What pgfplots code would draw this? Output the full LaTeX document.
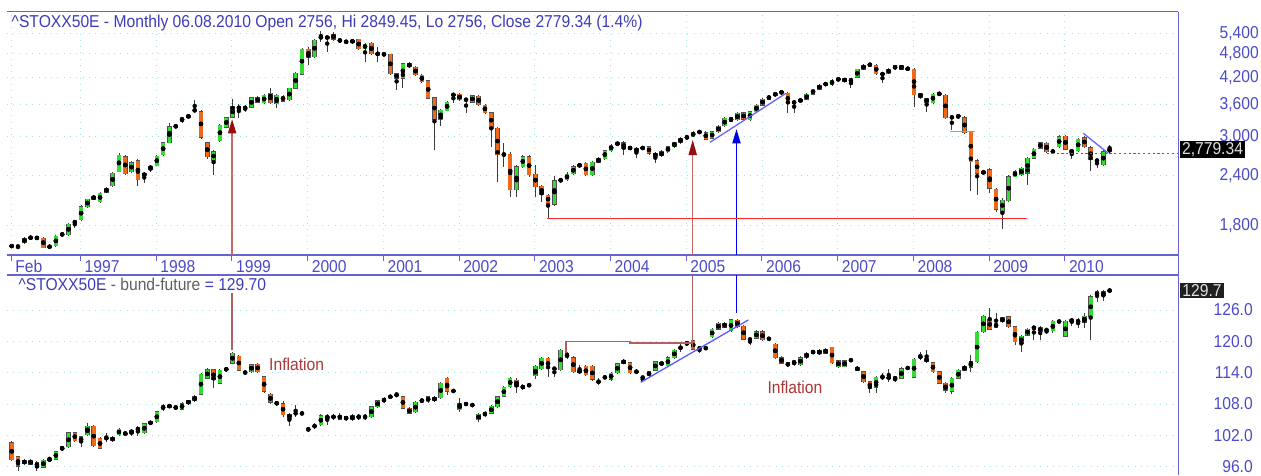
\documentclass[border=0pt]{standalone}
\usepackage{fontspec}
\setmainfont{Liberation Sans}[FakeStretch=0.91]
\usepackage{pgfplots}
\pgfplotsset{compat=1.18}
\usepackage{pgfplotstable}
\definecolor{upg}{RGB}{50,220,50}
\definecolor{dnr}{RGB}{240,105,25}
\definecolor{edge}{RGB}{80,80,80}
\definecolor{wickc}{RGB}{60,60,60}
\definecolor{framec}{RGB}{100,100,210}
\definecolor{tblue}{RGB}{60,60,185}
\definecolor{lblue}{RGB}{75,75,200}
\definecolor{gridc}{RGB}{165,225,232}
\definecolor{arrred}{RGB}{150,15,15}
\definecolor{linred}{RGB}{200,105,105}
\definecolor{infl}{RGB}{170,55,55}
\definecolor{tgray}{RGB}{95,95,95}
\newcommand\cf{\fontsize{17.2}{20}\selectfont}

\pgfplotstableread{
i o h l c
0 1600 1625 1580 1605
1 1600 1612 1575 1600
2 1630 1690 1620 1678
3 1678 1695 1668 1682
4 1682 1690 1665 1675
5 1678 1690 1580 1588
6 1590 1610 1585 1600
7 1603 1705 1595 1697
8 1705 1730 1695 1720
9 1707 1830 1700 1818
10 1830 1855 1775 1845
11 1860 2020 1850 2006
12 2006 2100 1995 2093
13 2093 2145 2080 2133
14 2060 2185 2045 2170
15 2175 2240 2165 2228
16 2258 2440 2250 2428
17 2451 2720 2440 2696
18 2670 2700 2400 2419
19 2451 2600 2430 2579
20 2610 2640 2258 2337
21 2390 2440 2300 2428
22 2484 2545 2440 2532
23 2536 2700 2525 2681
24 2696 2910 2680 2891
25 2891 3230 2880 3168
26 3168 3210 3140 3180
27 3260 3350 3240 3335
28 3335 3410 3310 3385
29 3470 3690 3440 3485
30 3451 3480 2960 2983
31 2891 2910 2640 2670
32 2610 2770 2405 2747
33 2925 3220 2900 3199
34 3157 3350 3140 3335
35 3346 3717 3330 3552
36 3562 3600 3330 3499
37 3499 3580 3440 3555
38 3540 3760 3520 3742
39 3742 3770 3620 3641
40 3626 3815 3600 3797
41 3842 3958 3600 3626
42 3613 3820 3519 3797
43 3776 3800 3640 3662
44 3690 3960 3670 3945
45 3945 4320 3930 4300
46 4272 4960 4250 4937
47 4937 5000 4500 4690
48 4716 5230 4690 5197
49 5260 5480 5150 5290
50 5290 5330 4852 5250
51 5380 5430 5180 5220
52 5219 5250 5120 5146
53 5146 5180 5110 5140
54 5122 5220 5090 5197
55 5219 5240 4910 4937
56 4937 5100 4586 5078
57 5100 5130 4770 4798
58 4798 5003 4586 4810
59 4810 4830 4740 4771
60 4790 4810 4260 4286
61 4286 4300 3907 4175
62 4175 4570 3945 4540
63 4540 4580 4430 4454
64 4454 4470 4230 4256
65 4256 4270 4070 4096
66 4120 4140 3700 3722
67 3742 3760 2774 3305
68 3292 3500 3178 3485
69 3472 3660 3460 3641
70 3790 3835 3618 3812
71 3812 3830 3670 3690
72 3690 3720 3426 3700
73 3641 3800 3620 3782
74 3776 3795 3570 3586
75 3586 3600 3410 3433
76 3433 3450 2827 3140
77 3140 3160 2314 2696
78 2696 2880 2521 2710
79 2710 2740 2123 2207
80 2207 2545 2123 2521
81 2521 2700 2500 2670
82 2670 2690 2380 2405
83 2419 2546 2123 2249
84 2258 2270 2062 2145
85 2145 2160 1878 2045
86 2035 2395 2010 2327
87 2327 2360 2310 2337
88 2337 2440 2320 2419
89 2419 2540 2400 2521
90 2521 2580 2500 2561
91 2572 2590 2390 2405
92 2405 2600 2390 2585
93 2585 2660 2570 2640
94 2640 2780 2620 2763
95 2763 2870 2745 2854
96 2854 2915 2840 2891
97 2891 2920 2696 2800
98 2800 2830 2780 2809
99 2800 2815 2650 2747
100 2800 2825 2785 2809
101 2826 2845 2700 2722
102 2722 2735 2572 2670
103 2681 2765 2660 2747
104 2747 2845 2730 2827
105 2827 2910 2810 2891
106 2891 2985 2875 2966
107 2966 3010 2950 2994
108 2994 3090 2980 3071
109 3071 3095 3050 3075
110 3064 3085 2930 2949
111 2966 3095 2945 3076
112 3076 3200 3060 3180
113 3180 3345 3160 3322
114 3265 3355 3245 3335
115 3292 3440 3270 3420
116 3433 3450 3285 3303
117 3297 3470 3280 3451
118 3451 3600 3435 3580
119 3580 3725 3565 3705
120 3705 3795 3690 3776
121 3780 3860 3770 3842
122 3842 3890 3820 3865
123 3830 3860 3420 3618
124 3618 3680 3420 3660
125 3660 3720 3640 3700
126 3700 3830 3685 3812
127 3812 3940 3797 3922
128 3922 4040 3905 4020
129 4020 4080 4000 4060
130 4020 4155 4000 4136
131 4136 4190 4110 4165
132 4165 4190 4080 4100
133 4100 4180 3945 4160
134 4200 4415 4180 4396
135 4396 4525 4380 4506
136 4506 4545 4480 4515
137 4506 4535 4265 4286
138 4286 4300 4060 4270
139 4290 4425 4275 4405
140 4405 4505 4390 4488
141 4488 4505 4380 4400
142 4400 4450 4370 4420
143 4396 4420 3553 3797
144 3830 3850 3720 3742
145 3722 3740 3451 3641
146 3635 3840 3615 3818
147 3842 3870 3780 3797
148 3797 3820 3315 3336
149 3336 3370 3109 3348
150 3348 3400 3330 3370
151 3336 3360 3040 3057
152 3074 3090 2189 2594
153 2610 2630 2145 2428
154 2428 2475 2410 2451
155 2480 2500 2170 2228
156 2215 2235 1950 1977
157 1956 2110 1765 2085
158 2075 2400 2060 2382
159 2382 2470 2370 2451
160 2405 2515 2390 2497
161 2428 2665 2271 2645
162 2645 2805 2630 2785
163 2800 2910 2785 2891
164 2880 2900 2730 2747
165 2747 2770 2730 2750
166 2827 3015 2810 2994
167 3005 3025 2765 2785
168 2774 2790 2630 2733
169 2763 2970 2745 2949
170 2977 3000 2810 2827
171 2810 2830 2464 2620
172 2620 2640 2500 2600
173 2546 2765 2530 2747
174 2756 2849 2756 2779
}\topdata

\pgfplotstableread{
i o h l c
0 100.6 100.9 97.0 97.3
1 97.9 98.1 95.2 96.1
2 96.6 97.4 96.4 97.2
3 97.2 97.4 96.3 96.5
4 96.8 97.0 95.1 95.9
5 95.9 97.5 95.7 97.2
6 97.3 97.9 97.1 97.4
7 97.4 99.1 97.2 98.9
8 99.2 100.0 99.0 99.8
9 99.8 102.7 99.6 102.5
10 102.5 102.7 100.8 101.0
11 101.7 101.9 99.8 100.8
12 102.1 104.3 101.9 103.7
13 103.7 103.9 99.8 100.0
14 101.4 101.6 99.3 99.5
15 101.4 102.4 100.8 101.5
16 101.0 101.8 100.8 101.6
17 102.1 103.4 101.9 103.2
18 102.4 102.6 102.1 102.3
19 102.4 103.2 101.8 103.0
20 103.5 103.7 101.8 102.9
21 102.5 104.4 102.3 104.2
22 104.2 104.8 104.0 104.6
23 104.6 106.7 104.4 106.5
24 106.9 108.0 106.7 107.8
25 107.8 108.0 107.2 107.4
26 107.4 107.6 107.0 107.3
27 107.0 108.3 106.8 108.1
28 108.1 108.8 107.9 108.6
29 108.6 109.7 108.4 109.5
30 109.9 113.9 109.7 113.7
31 112.9 114.9 112.7 114.6
32 114.6 114.8 111.0 112.6
33 112.0 114.7 111.8 114.5
34 114.6 114.9 114.4 114.7
35 115.8 118.0 115.6 117.7
36 117.2 117.4 114.3 114.5
37 114.0 114.5 113.6 114.0
38 114.2 115.7 114.0 115.5
39 115.6 115.9 114.0 114.2
40 113.2 113.4 110.1 110.4
41 109.9 110.1 108.0 108.3
42 108.2 108.6 107.7 108.1
43 108.1 108.5 105.6 105.9
44 105.3 106.3 103.7 106.1
45 106.2 107.8 105.6 106.2
46 106.2 106.4 106.0 106.2
47 103.2 103.6 102.6 103.2
48 103.8 104.3 103.2 103.8
49 104.0 106.0 103.8 105.8
50 105.7 106.0 104.0 105.3
51 105.5 106.0 105.0 105.6
52 105.9 106.2 104.9 105.1
53 105.0 105.8 104.8 105.6
54 105.8 106.0 104.8 105.0
55 105.6 106.0 104.9 105.6
56 105.6 106.0 104.9 105.6
57 105.6 107.7 105.4 107.5
58 107.5 108.8 107.3 108.6
59 108.4 109.3 108.2 109.1
60 109.4 109.6 109.2 109.4
61 109.7 110.2 109.5 109.7
62 109.4 109.6 107.0 107.2
63 107.2 107.4 106.0 106.2
64 106.5 108.5 106.3 108.3
65 108.6 109.0 108.3 108.7
66 108.45 109.6 108.2 109.4
67 109.3 109.5 108.4 108.65
68 109.2 112.2 109.0 112.0
69 112.9 113.1 109.7 110.4
70 110.5 110.7 110.3 110.5
71 106.9 109.1 106.5 108.1
72 108.0 108.3 107.7 108.0
73 107.8 107.9 107.7 107.8
74 104.95 106.3 104.6 106.1
75 106.1 106.6 105.5 106.1
76 106.2 107.8 106.0 107.6
77 107.5 109.6 107.3 109.4
78 109.5 111.4 109.3 111.2
79 111.3 113.2 111.1 112.9
80 112.6 112.9 110.2 111.3
81 110.9 111.8 110.7 111.6
82 111.6 111.7 111.5 111.6
83 113.4 115.4 112.7 115.2
84 114.8 117.0 114.6 116.75
85 116.75 117.0 113.1 114.8
86 114.8 115.0 113.2 114.8
87 114.6 118.6 114.4 118.3
88 117.7 118.0 116.7 116.9
89 116.9 117.1 114.0 114.2
90 114.0 115.5 113.8 114.5
91 115.2 115.4 113.3 113.55
92 115.2 115.4 112.5 112.7
93 112.3 112.9 111.6 112.3
94 113.1 113.2 113.0 113.1
95 112.7 114.1 112.5 113.9
96 114.0 115.9 113.8 115.7
97 115.8 116.6 115.6 116.3
98 115.9 116.1 113.8 114.0
99 114.2 114.3 114.1 114.2
100 113.1 113.2 112.3 113.1
101 113.4 114.4 113.2 114.2
102 114.5 116.3 114.3 116.1
103 116.0 116.2 115.3 115.5
104 115.3 117.1 115.1 116.9
105 116.9 118.5 116.7 118.3
106 118.8 119.5 118.0 118.8
107 119.3 120.1 119.1 119.9
108 120.1 120.3 118.3 118.5
109 118.7 119.0 117.7 118.7
110 118.7 118.8 118.6 118.7
111 120.9 122.5 120.7 122.3
112 122.3 123.7 122.1 123.45
113 123.45 123.7 122.5 122.7
114 122.0 124.3 121.8 124.1
115 124.0 124.2 122.6 122.8
116 122.9 123.1 120.2 120.4
117 120.4 120.6 119.3 120.4
118 120.6 122.1 120.4 121.85
119 121.85 122.1 120.1 120.3
120 120.5 120.7 120.3 120.5
121 119.5 119.7 116.7 116.9
122 116.9 117.1 115.6 115.8
123 115.3 116.1 115.1 115.9
124 116.3 116.5 115.3 115.5
125 115.5 117.1 115.3 116.9
126 116.9 117.9 116.7 117.7
127 117.7 118.4 117.5 118.2
128 118.2 118.5 117.4 117.6
129 118.5 118.7 117.5 117.7
130 118.85 119.0 115.7 115.9
131 115.15 116.5 114.9 116.3
132 115.15 116.5 115.0 116.3
133 116.4 116.5 116.3 116.4
134 115.0 115.2 114.3 114.5
135 114.2 114.4 112.1 112.3
136 112.3 112.5 110.05 111.0
137 111.2 113.3 110.05 113.1
138 113.1 113.9 112.6 113.1
139 113.1 114.8 112.3 113.0
140 113.0 113.2 112.3 112.9
141 112.9 115.0 112.7 114.8
142 114.9 115.0 114.8 114.9
143 113.1 116.8 112.9 116.55
144 117.0 117.95 116.4 117.0
145 116.75 118.3 115.9 116.1
146 115.9 116.1 114.0 114.2
147 114.2 114.4 111.8 112.0
148 112.0 112.2 110.05 110.6
149 110.4 113.1 110.0 112.9
150 112.9 114.7 112.7 114.5
151 114.5 115.4 114.3 115.15
152 115.0 117.4 114.2 116.1
153 116.1 121.9 115.9 121.7
154 121.85 125.1 121.6 124.85
155 124.2 126.3 122.2 122.3
156 122.7 125.4 122.5 123.45
157 123.8 124.7 123.6 124.5
158 124.7 124.9 122.6 122.8
159 122.8 123.0 119.3 119.9
160 119.6 121.2 118.0 121.0
161 121.2 122.5 121.0 122.3
162 122.3 123.1 120.3 122.9
163 122.7 122.9 120.3 121.85
164 122.2 122.4 121.4 122.2
165 122.0 124.0 121.6 123.8
166 123.8 123.9 123.7 123.8
167 121.0 124.0 120.8 123.8
168 123.8 124.5 123.0 124.2
169 124.2 124.4 122.6 123.45
170 123.6 125.4 122.5 124.85
171 124.7 128.8 120.3 128.55
172 128.7 129.8 127.6 129.5
173 129.5 129.8 127.8 128.7
174 129.7 129.9 129.6 129.7
}\botdata

\pgfplotsset{
  panel/.style={
    scale only axis, width=1171.3pt,
    xmin=-0.745, xmax=184.88,
    axis line style={draw=none},
    ytick pos=right, yticklabel pos=right,
    ytick style={draw=none},
    yticklabel style={anchor=east, inner sep=0pt, xshift=74.7pt, font=\cf, text=lblue},
    ymajorgrids,
    grid style={gridc, line width=0.9pt, dash pattern=on 0.9pt off 5.4pt},
  },
  wick/.style={only marks, mark=none, forget plot,
    error bars/.cd, y dir=both, y explicit, error mark=none,
    error bar style={line width=0.9pt, draw=wickc}},
  body/.style 2 args={only marks, mark=none, forget plot,
    error bars/.cd, y dir=both, y explicit, error mark=none,
    error bar style={line width=#1, draw=#2}},
}

\begin{document}
\begin{tikzpicture}[x=1pt,y=1pt]
\useasboundingbox (0,0) rectangle (1261,475);

% ---------- top panel ----------
\begin{axis}[panel, at={(7pt,220pt)}, anchor=south west, height=243.3pt,
  ymode=log, ymin=1522.6, ymax=6109,
  ytick={1800,2400,3000,3600,4200,4800,5400},
  yticklabels={{1,800},{2,400},{3,000},{3,600},{4,200},{4,800},{5,400}},
  xtick={-0.1,10.9,22.9,34.9,46.9,58.9,70.9,82.9,94.9,106.9,118.9,130.9,142.9,154.9,166.9},
  xticklabels={Feb,1997,1998,1999,2000,2001,2002,2003,2004,2005,2006,2007,2008,2009,2010},
  xtick pos=left, tick align=outside, major tick length=6pt,
  xtick style={draw=framec, line width=1pt},
  xticklabel style={anchor=north west, inner sep=0pt, xshift=4pt, yshift=1pt, font=\cf, text=lblue},
  xmajorgrids,
]
\addplot[wick] table[x=i, y expr={(\thisrow{h}+\thisrow{l})/2}, y error expr={(\thisrow{h}-\thisrow{l})/2}] {\topdata};
\addplot[body={4.6pt}{edge}] table[x=i, y expr={(\thisrow{o}+\thisrow{c})/2}, y error expr={abs(\thisrow{c}-\thisrow{o})/2+0.0011*(\thisrow{o}+\thisrow{c})}] {\topdata};
\addplot[restrict expr to domain={\thisrow{c}-\thisrow{o}}{0.0001:1000000}, body={3.6pt}{upg}] table[x=i, y expr={(\thisrow{o}+\thisrow{c})/2}, y error expr={abs(\thisrow{c}-\thisrow{o})/2}] {\topdata};
\addplot[restrict expr to domain={\thisrow{c}-\thisrow{o}}{-1000000:-0.0001}, body={3.6pt}{dnr}] table[x=i, y expr={(\thisrow{o}+\thisrow{c})/2}, y error expr={abs(\thisrow{c}-\thisrow{o})/2}] {\topdata};
\end{axis}

% ---------- bottom panel ----------
\begin{axis}[panel, at={(7pt,0pt)}, anchor=south west, height=200pt,
  ymin=94.41, ymax=132.70,
  ytick={96,102,108,114,120,126},
  yticklabels={96.0,102.0,108.0,114.0,120.0,126.0},
  xtick=\empty,
]
\addplot[wick] table[x=i, y expr={(\thisrow{h}+\thisrow{l})/2}, y error expr={(\thisrow{h}-\thisrow{l})/2}] {\botdata};
\addplot[body={4.6pt}{edge}] table[x=i, y expr={(\thisrow{o}+\thisrow{c})/2}, y error expr={abs(\thisrow{c}-\thisrow{o})/2+0.085}] {\botdata};
\addplot[restrict expr to domain={\thisrow{c}-\thisrow{o}}{0.0001:1000000}, body={3.6pt}{upg}] table[x=i, y expr={(\thisrow{o}+\thisrow{c})/2}, y error expr={abs(\thisrow{c}-\thisrow{o})/2}] {\botdata};
\addplot[restrict expr to domain={\thisrow{c}-\thisrow{o}}{-1000000:-0.0001}, body={3.6pt}{dnr}] table[x=i, y expr={(\thisrow{o}+\thisrow{c})/2}, y error expr={abs(\thisrow{c}-\thisrow{o})/2}] {\botdata};
\end{axis}

% ---------- frame ----------
\draw[framec, line width=1.3pt] (7,463.3) -- (1178.3,463.3);
\draw[framec, line width=1.3pt] (7,220) -- (1178.3,220);
\draw[framec, line width=1.3pt] (7,200) -- (1178.3,200);
\draw[framec, line width=1.3pt] (1178.3,463.3) -- (1178.3,0);

% ---------- titles ----------
\node[anchor=base west, inner sep=0pt, font=\cf, text=tblue] at (11.5,447.7)
  {\textasciicircum STOXX50E - Monthly 06.08.2010 Open 2756, Hi 2849.45, Lo 2756, Close 2779.34 (1.4\%)};
\node[anchor=base west, inner sep=0pt, font=\cf] at (18.3,184.5)
  {\textcolor{tblue}{\textasciicircum STOXX50E}\textcolor{tgray}{\ - bund-future\ }\textcolor{tblue}{= 129.70}};

% ---------- annotations, top ----------
\draw[linred, line width=1.3pt] (232,220) -- (232,341.7);
\fill[arrred] (227.8,341.7) -- (236.4,341.7) -- (232.1,355.7) -- cycle;
\draw[linred, line width=1.3pt] (692.7,220) -- (692.7,320);
\fill[arrred] (688.4,320) -- (697,320) -- (692.7,335) -- cycle;
\draw[blue, line width=1.3pt] (736.5,220) -- (736.5,331.7);
\fill[blue!85!black] (732.2,331.7) -- (740.8,331.7) -- (736.5,345.7) -- cycle;
\draw[blue!60!white, line width=1.3pt] (710,332.7) -- (786,381.7);
\draw[red!85!white, line width=1.3pt] (546.7,256.7) -- (1026.7,256.7);
\draw[green!80!black!70!white, line width=1.2pt] (950,343.3) -- (975,343.3);
\draw[blue!60!white, line width=1.3pt] (1083.3,341.7) -- (1108.3,321.7);
\draw[wickc!80!white, line width=1.1pt, dash pattern=on 2.2pt off 2.6pt] (1047,321.7) -- (1178,321.7);
\fill[black] (1180,316.7) rectangle (1245,334.3);
\node[font=\cf, text=white!88!black, inner sep=0pt] at (1212.5,325.5) {2,779.34};

% ---------- annotations, bottom ----------
\draw[linred!90!black, line width=1.3pt] (232,182) -- (232,125);
\draw[linred!90!black, line width=1.3pt] (692.7,200) -- (692.7,126);
\draw[blue, line width=1.3pt] (736.5,200) -- (736.5,162);
\draw[linred!90!black, line width=1.2pt] (566,122) -- (566,133.3) -- (630,133.3) -- (630,132) -- (692.7,132);
\draw[blue!65!white, line width=1.3pt] (640.7,92.7) -- (748.3,155);
\node[anchor=west, inner sep=0pt, font=\cf, text=infl] at (269,110.7) {Inflation};
\node[anchor=west, inner sep=0pt, font=\cf, text=infl] at (767.3,87.7) {Inflation};
\fill[black!88] (1180,176.7) rectangle (1224,191.7);
\node[font=\cf, text=white!88!black, inner sep=0pt] at (1202,184.2) {129.7};
\end{tikzpicture}
\end{document}
